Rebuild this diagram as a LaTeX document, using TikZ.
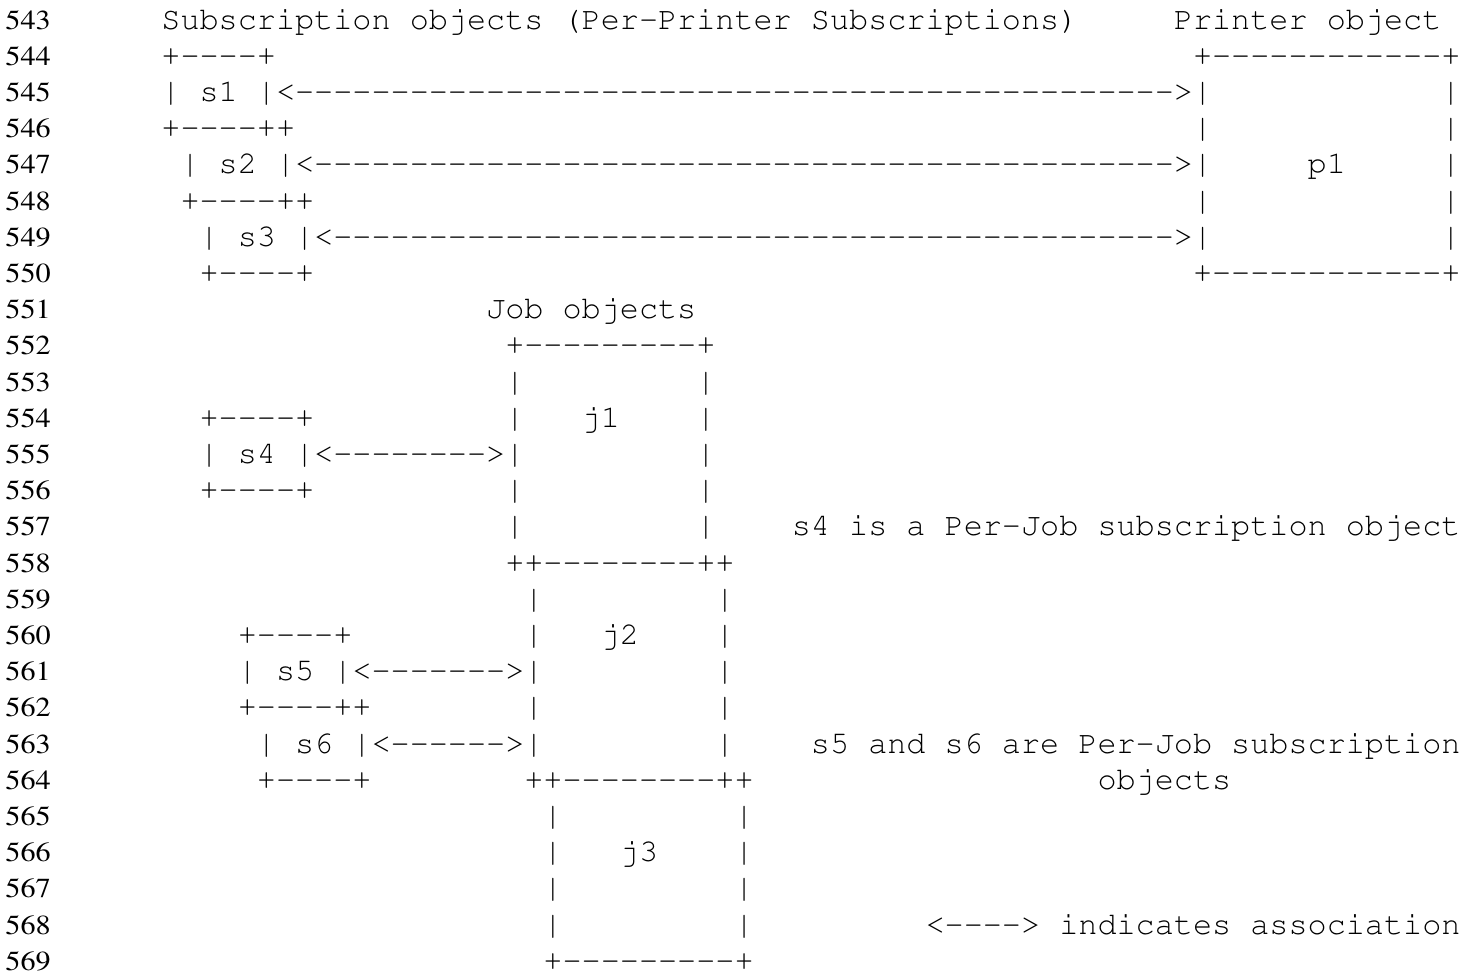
\documentclass[tikz,border=0pt]{standalone}
\usepackage[T1]{fontenc}

% column width and row pitch, in px of the page
\def\cw{19.104}
\def\rh{36.2}

\tikzset{
  lnum/.style={anchor=base west, inner sep=0pt, xscale=1.1,
    font=\fontfamily{ptm}\fontsize{13.75pt}{16pt}\selectfont},
  mono/.style={anchor=base west, inner sep=0pt,
    font=\fontfamily{pcr}\fontsize{15.92pt}{18pt}\selectfont},
}
% a run of hyphens, kept apart so that no ligature forms
\newcommand\dashes[1]{\foreach \k in {1,...,#1}{-}}
% text at a column and a listing line
\newcommand\txt[4]{\node[mono] (#1) at ({161+\cw*#2}, {29+\rh*(#3-543)}) {#4};}

\begin{document}
\begin{tikzpicture}[x=0.5pt, y=-0.5pt]
  \useasboundingbox (0,0) rectangle (1481,975);

  % line numbers
  \foreach \n in {543,...,569} {
    \node[lnum] (n\n) at (5, {29+\rh*(\n-543)}) {\n};
  }

  % per-printer subscriptions and the printer
  \txt{head}{0}{543}{Subscription objects (Per-Printer Subscriptions)}
  \txt{phead}{53}{543}{Printer object}
  \txt{s1top}{0}{544}{+\dashes{4}+}
  \txt{p1top}{54}{544}{+\dashes{12}+}
  \txt{s1}{0}{545}{| s1 |<\dashes{46}>|}
  \txt{p1r1}{67}{545}{|}
  \txt{s1bot}{0}{546}{+\dashes{4}++}
  \txt{p1l2}{54}{546}{|}
  \txt{p1r2}{67}{546}{|}
  \txt{s2}{1}{547}{| s2 |<\dashes{45}>|}
  \txt{p1}{60}{547}{p1}
  \txt{p1r3}{67}{547}{|}
  \txt{s2bot}{1}{548}{+\dashes{4}++}
  \txt{p1l4}{54}{548}{|}
  \txt{p1r4}{67}{548}{|}
  \txt{s3}{2}{549}{| s3 |<\dashes{44}>|}
  \txt{p1r5}{67}{549}{|}
  \txt{s3bot}{2}{550}{+\dashes{4}+}
  \txt{p1bot}{54}{550}{+\dashes{12}+}

  % job objects
  \txt{jhead}{17}{551}{Job objects}
  \txt{j1top}{18}{552}{+\dashes{9}+}
  \txt{j1l1}{18}{553}{|}
  \txt{j1r1}{28}{553}{|}
  \txt{s4top}{2}{554}{+\dashes{4}+}
  \txt{j1l2}{18}{554}{|}
  \txt{j1}{22}{554}{j1}
  \txt{j1r2}{28}{554}{|}
  \txt{s4}{2}{555}{| s4 |<\dashes{8}>|}
  \txt{j1r3}{28}{555}{|}
  \txt{s4bot}{2}{556}{+\dashes{4}+}
  \txt{j1l4}{18}{556}{|}
  \txt{j1r4}{28}{556}{|}
  \txt{j1l5}{18}{557}{|}
  \txt{j1r5}{28}{557}{|}
  \txt{note1}{33}{557}{s4 is a Per-Job subscription object}
  \txt{j2top}{18}{558}{++\dashes{8}++}
  \txt{j2l1}{19}{559}{|}
  \txt{j2r1}{29}{559}{|}
  \txt{s5top}{4}{560}{+\dashes{4}+}
  \txt{j2l2}{19}{560}{|}
  \txt{j2}{23}{560}{j2}
  \txt{j2r2}{29}{560}{|}
  \txt{s5}{4}{561}{| s5 |<\dashes{7}>|}
  \txt{j2r3}{29}{561}{|}
  \txt{s5bot}{4}{562}{+\dashes{4}++}
  \txt{j2l4}{19}{562}{|}
  \txt{j2r4}{29}{562}{|}
  \txt{s6}{5}{563}{| s6 |<\dashes{6}>|}
  \txt{j2r5}{29}{563}{|}
  \txt{note2}{34}{563}{s5 and s6 are Per-Job subscription}
  \txt{s6bot}{5}{564}{+\dashes{4}+}
  \txt{j3top}{19}{564}{++\dashes{8}++}
  \txt{note2b}{49}{564}{objects}
  \txt{j3l1}{20}{565}{|}
  \txt{j3r1}{30}{565}{|}
  \txt{j3l2}{20}{566}{|}
  \txt{j3}{24}{566}{j3}
  \txt{j3r2}{30}{566}{|}
  \txt{j3l3}{20}{567}{|}
  \txt{j3r3}{30}{567}{|}
  \txt{j3l4}{20}{568}{|}
  \txt{j3r4}{30}{568}{|}
  \txt{key}{40}{568}{<\dashes{4}> indicates association}
  \txt{j3bot}{20}{569}{+\dashes{9}+}
\end{tikzpicture}
\end{document}
